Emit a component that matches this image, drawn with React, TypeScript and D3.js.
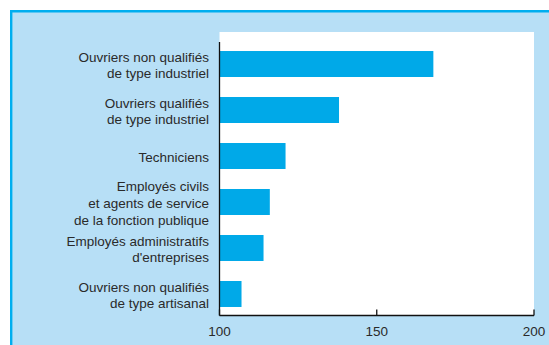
import React from "react";
import * as d3 from "d3";

const categories: string[][] = [
  ["Ouvriers non qualifiés", "de type industriel"],
  ["Ouvriers qualifiés", "de type industriel"],
  ["Techniciens"],
  ["Employés civils", "et agents de service", "de la fonction publique"],
  ["Employés administratifs", "d'entreprises"],
  ["Ouvriers non qualifiés", "de type artisanal"],
];
const values: number[] = [168, 138, 121, 116, 114, 107];
const xTicks: number[] = [100, 150, 200];

const W = 549;
const H = 345;
const plotLeft = 219.5;
const plotRight = 534;
const plotTop = 32;
const axisY = 315.5;

export default function App() {
  const x = d3.scaleLinear().domain([100, 200]).range([plotLeft, plotRight]);
  const ids = categories.map((_, i) => String(i));
  const y = d3
    .scaleBand<string>()
    .domain(ids)
    .range([42, 316])
    .paddingInner(0.435)
    .paddingOuter(0.196);
  const font = "'Liberation Sans', Arial, sans-serif";
  const lineH = 16.7;
  return (
    <svg
      width={W}
      height={H}
      style={{ position: "absolute", left: 0, top: 0, background: "#fff" }}
    >
      <rect x={10} y={10} width={W} height={H} fill="#b7dff6" />
      <line x1={10} x2={W} y1={11.2} y2={11.2} stroke="#00aeef" strokeWidth={2.4} />
      <line x1={11.2} x2={11.2} y1={10} y2={H} stroke="#00aeef" strokeWidth={2.4} />
      <rect
        x={plotLeft}
        y={plotTop}
        width={plotRight - plotLeft}
        height={axisY - plotTop}
        fill="#fff"
      />
      {values.map((v, i) => (
        <rect
          key={i}
          x={x(100)}
          y={y(String(i))}
          width={x(v) - x(100)}
          height={y.bandwidth()}
          fill="#00a9e8"
        />
      ))}
      <line x1={plotLeft} x2={plotLeft} y1={42} y2={axisY} stroke="#111" strokeWidth={1.3} />
      <line x1={plotLeft} x2={plotRight} y1={axisY} y2={axisY} stroke="#111" strokeWidth={1.3} />
      {xTicks.map((t) => (
        <g key={t}>
          <line x1={x(t)} x2={x(t)} y1={axisY} y2={axisY - 6} stroke="#111" strokeWidth={1.3} />
          <text
            x={x(t)}
            y={336}
            textAnchor="middle"
            fontFamily={font}
            fontSize={13.5}
            fill="#2a2a2a"
          >
            {t}
          </text>
        </g>
      ))}
      {categories.map((lines, i) => {
        const cy = (y(String(i)) as number) + y.bandwidth() / 2 + 1.5;
        const first = cy - ((lines.length - 1) * lineH) / 2 + 4.5;
        return (
          <text
            key={i}
            x={209}
            textAnchor="end"
            fontFamily={font}
            fontSize={13.5}
            fill="#2a2a2a"
          >
            {lines.map((l, j) => (
              <tspan key={j} x={209} y={first + j * lineH}>
                {l}
              </tspan>
            ))}
          </text>
        );
      })}
    </svg>
  );
}
